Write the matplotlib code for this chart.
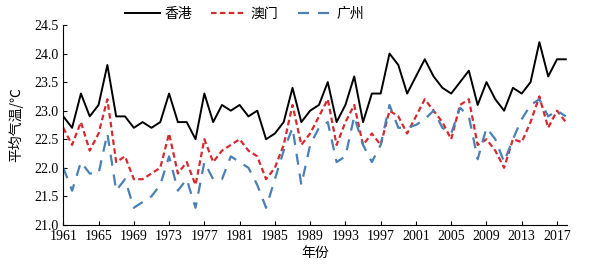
import numpy as np
import matplotlib
matplotlib.use("Agg")
from matplotlib import pyplot as plt

plt.rcParams['font.family'] = ['Liberation Serif', 'Noto Sans CJK SC', 'DejaVu Sans']

years = np.arange(1961, 2019)

# Hong Kong
hk = [22.9, 22.7, 23.3, 22.9, 23.1, 23.8, 22.9, 22.9, 22.7, 22.8,
      22.7, 22.8, 23.3, 22.8, 22.8, 22.5, 23.3, 22.8, 23.1, 23.0,
      23.1, 22.9, 23.0, 22.5, 22.6, 22.8, 23.4, 22.8, 23.0, 23.1,
      23.5, 22.8, 23.1, 23.6, 22.8, 23.3, 23.3, 24.0, 23.8, 23.3,
      23.6, 23.9, 23.6, 23.4, 23.3, 23.5, 23.7, 23.1, 23.5, 23.2,
      23.0, 23.4, 23.3, 23.5, 24.2, 23.6, 23.9, 23.9]
# Macau
mo = [22.7, 22.4, 22.8, 22.3, 22.6, 23.2, 22.1, 22.2, 21.8, 21.8,
      21.9, 22.0, 22.6, 21.9, 22.1, 21.7, 22.5, 22.1, 22.3, 22.4,
      22.5, 22.3, 22.2, 21.8, 22.0, 22.4, 23.1, 22.4, 22.6, 22.9,
      23.2, 22.4, 22.8, 23.1, 22.4, 22.6, 22.4, 23.0, 22.9, 22.6,
      22.9, 23.2, 23.0, 22.8, 22.5, 23.1, 23.2, 22.4, 22.5, 22.3,
      22.0, 22.5, 22.45, 22.8, 23.25, 22.7, 23.0, 22.8]
# Guangzhou
gz = [22.0, 21.6, 22.1, 21.9, 21.9, 22.6, 21.6, 21.8, 21.3, 21.4,
      21.5, 21.7, 22.2, 21.6, 21.8, 21.3, 22.1, 21.8, 21.8, 22.2,
      22.1, 22.0, 21.7, 21.3, 21.8, 22.3, 22.7, 21.7, 22.4, 22.7,
      22.8, 22.1, 22.2, 22.9, 22.4, 22.1, 22.4, 23.1, 22.7, 22.7,
      22.75, 22.85, 23.0, 22.7, 22.6, 23.05, 22.9, 22.15, 22.7, 22.5,
      22.1, 22.5, 22.85, 23.1, 23.2, 22.9, 23.0, 22.9]

labels = ['香港', '澳门', '广州']
xticks = np.arange(1961, 2018, 4)
yticks = np.arange(21.0, 24.51, 0.5)

fig = plt.figure(figsize=(5.97, 2.69), dpi=100)
ax = fig.add_axes([0.106, 0.164, 0.844, 0.743])

ax.plot(years, hk, color='black', lw=1.4, label=labels[0])
ax.plot(years, mo, color='#d42a30', lw=1.6, linestyle=(0, (2.5, 1.5)), label=labels[1])
ax.plot(years, gz, color='#4a80b4', lw=1.6, linestyle=(0, (5, 4)), label=labels[2])

ax.set_xlim(1961, 2018.15)
ax.set_ylim(21.0, 24.5)
ax.set_xticks(xticks)
ax.set_yticks(yticks)
ax.set_yticklabels([f'{v:.1f}' for v in yticks])
ax.tick_params(direction='in', labelsize=10, length=3, width=0.8)
for s in ['top', 'right']:
    ax.spines[s].set_visible(False)
for s in ['left', 'bottom']:
    ax.spines[s].set_linewidth(0.8)

ax.set_xlabel('年份', fontsize=10, family=['Noto Sans CJK SC', 'DejaVu Sans'], labelpad=2)
ax.set_ylabel('平均气温/℃', fontsize=10, family=['Noto Sans CJK SC', 'DejaVu Sans'], labelpad=8)

fig.legend(loc='center', bbox_to_anchor=(0.41, 0.948), ncol=3, frameon=False,
           handlelength=2.5, handletextpad=0.3, columnspacing=1.4,
           prop={'family': ['Noto Sans CJK SC', 'DejaVu Sans'], 'size': 10})

fig.savefig('out.png', dpi=100)
